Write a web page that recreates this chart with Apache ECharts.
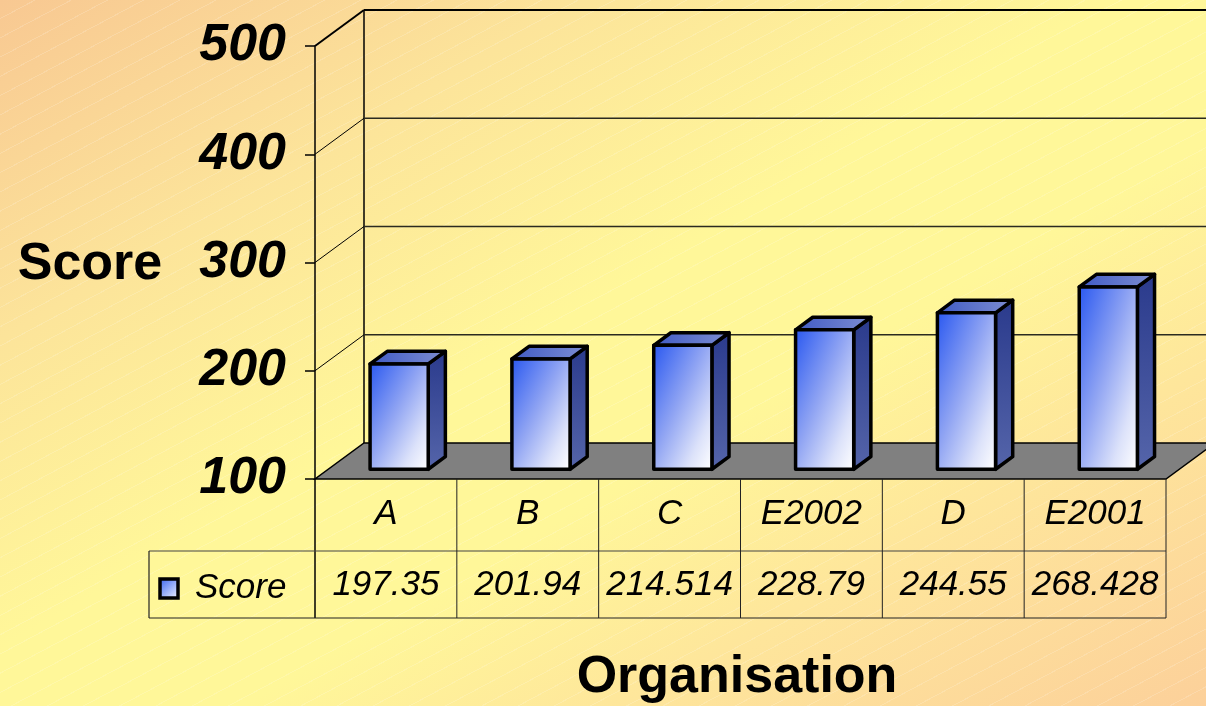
<!DOCTYPE html>
<html>
<head>
<meta charset="utf-8">
<script src="https://cdn.jsdelivr.net/npm/echarts@6/dist/echarts.min.js"></script>
<style>
html,body{margin:0;padding:0;}
body{width:1206px;height:706px;overflow:hidden;
background:
 repeating-linear-gradient(152deg, rgba(255,255,255,0) 0px, rgba(255,255,255,0) 16px, rgba(255,255,255,0.16) 16px, rgba(255,255,255,0.16) 17px),
 linear-gradient(to bottom right, #F8C892 0%, #FCE49A 24%, #FFF799 46%, #FFF799 60%, #FEE69B 76%, #FCD09A 100%);}
#chart{width:1206px;height:706px;}
</style>
</head>
<body>
<div id="chart"></div>
<script>
// ---- data ----
const categories = ['A', 'B', 'C', 'E2002', 'D', 'E2001'];
const scores = [197.35, 201.94, 214.514, 228.79, 244.55, 268.428];
const scoreLabels = ['197.35', '201.94', '214.514', '228.79', '244.55', '268.428'];
const yTicks = [100, 200, 300, 400, 500];
const seriesName = 'Score';
const yTitle = 'Score';
const xTitle = 'Organisation';

// ---- layout / style ----
const FONT = '"Liberation Sans", Arial, sans-serif';
const DX = 49, DY = -36;          // depth offset of back wall
const F0 = 0.27, F1 = 0.62;       // bar depth fractions
const BARW = 0.41;                // bar width as fraction of band

const frontStops = [
  {offset:0, color:'#2B59F0'}, {offset:0.45, color:'#91A5F3'}, {offset:0.78, color:'#DCE2FA'}, {offset:1, color:'#FFFFFF'}];
const keyGrad = {type:'linear', x:0, y:0, x2:1, y2:1, colorStops:[
  {offset:0, color:'#2C5AF0'}, {offset:1, color:'#FFFFFF'}]};
const sideGrad = {type:'linear', x:0, y:0, x2:0, y2:1, colorStops:[
  {offset:0, color:'#2A3A8C'}, {offset:1, color:'#5565AA'}]};
const topGrad = {type:'linear', x:0, y:0, x2:1, y2:0, colorStops:[
  {offset:0, color:'#3F5AC4'}, {offset:1, color:'#7E8ED2'}]};

const chart = echarts.init(document.getElementById('chart'), null, {renderer:'canvas'});

function wallsRender(params, api) {
  const cs = params.coordSys;
  const L = cs.x, R = cs.x + cs.width;
  const t = api.value(0);
  const y = api.coord([0, t])[1];
  const children = [];
  const yMin = yTicks[0], yMax = yTicks[yTicks.length - 1];
  if (t === yMin) {
    children.push({type:'polygon', shape:{points:[[L,y],[R,y],[R+DX,y+DY],[L+DX,y+DY]]},
      style:{fill:'#808080', stroke:'#000', lineWidth:1.5}});
    const yTop = api.coord([0, yMax])[1];
    children.push({type:'line', shape:{x1:L+DX, y1:yTop+DY, x2:L+DX, y2:y+DY},
      style:{stroke:'#000', lineWidth:1.5}});
  } else {
    const top = t === yMax;
    children.push({type:'line', shape:{x1:L, y1:y, x2:L+DX, y2:y+DY},
      style:{stroke:'#000', lineWidth: top ? 2 : 1}});
    children.push({type:'line', shape:{x1:L+DX, y1:y+DY, x2:R+DX+60, y2:y+DY},
      style:{stroke: top ? '#000' : '#2a2a20', lineWidth: top ? 2 : 1.3}});
  }
  return {type:'group', children};
}

function barRender(params, api) {
  const i = api.value(0), v = api.value(1);
  const base = api.coord([i, yTicks[0]]);
  const top = api.coord([i, v]);
  const band = api.size([1, 0])[0];
  const w = band * BARW;
  const x0 = base[0] - w / 2 + DX * F0, x1 = x0 + w;
  const yb = base[1] + DY * F0, yt = top[1] + DY * F0;
  const h = yb - yt;
  const ddx = DX * (F1 - F0), ddy = DY * (F1 - F0);
  // gradient whose isolines run along the anti-diagonal of the front face
  const tt = 2 * w * h / (h * h + w * w);
  const frontGrad = {type:'linear', global:true, x:x0, y:yt, x2:x0 + h * tt, y2:yt + w * tt,
    colorStops: frontStops};
  const st = {stroke:'#000', lineWidth:3.5, lineJoin:'round'};
  return {type:'group', children:[
    {type:'polygon', shape:{points:[[x1,yt],[x1+ddx,yt+ddy],[x1+ddx,yb+ddy],[x1,yb]]},
      style:Object.assign({fill:sideGrad}, st)},
    {type:'polygon', shape:{points:[[x0,yt],[x0+ddx,yt+ddy],[x1+ddx,yt+ddy],[x1,yt]]},
      style:Object.assign({fill:topGrad}, st)},
    {type:'rect', shape:{x:x0, y:yt, width:w, height:h},
      style:Object.assign({fill:frontGrad}, st)}
  ]};
}

function tableRender(params, api) {
  const i = api.value(0);
  const base = api.coord([i, yTicks[0]]);
  const band = api.size([1, 0])[0];
  const xr = base[0] + band / 2;
  const y0 = base[1];
  return {type:'group', children:[
    {type:'line', shape:{x1:xr, y1:y0, x2:xr, y2:y0+139}, style:{stroke:'#222', lineWidth:1}},
    {type:'text', x:base[0], y:y0 + 35, style:{text:categories[i], fill:'#000',
      font:'italic 35px ' + FONT, align:'center', verticalAlign:'middle'}},
    {type:'text', x:base[0], y:y0 + 106, style:{text:scoreLabels[i], fill:'#000',
      font:'italic 35px ' + FONT, align:'center', verticalAlign:'middle'}}
  ]};
}

const option = {
  backgroundColor: 'transparent',
  animation: false,
  grid: {left: 315, top: 46, width: 851, height: 433, containLabel: false},
  xAxis: {type:'category', data: categories, show: false},
  yAxis: {
    type:'value', min: yTicks[0], max: yTicks[yTicks.length-1], interval: 100,
    axisLine:{show:true, lineStyle:{color:'#000', width:1.5}},
    axisTick:{show:true, length:10, lineStyle:{color:'#000', width:1.5}},
    splitLine:{show:false},
    axisLabel:{margin:29, fontSize:52, fontWeight:'bold', fontStyle:'italic',
      fontFamily:FONT, color:'#000'}
  },
  series: [
    {type:'custom', name:'walls', data: yTicks.map(t => [t]), renderItem: wallsRender,
      encode:{y:0}, silent:true, z:1},
    {type:'custom', name: seriesName, data: scores.map((v,i) => [i, v]), renderItem: barRender,
      encode:{x:0, y:1}, z:3},
    {type:'custom', name:'table', data: scores.map((v,i) => [i, v]), renderItem: tableRender,
      encode:{x:0, y:1}, silent:true, z:2}
  ],
  graphic: [
    {type:'line', shape:{x1:315, y1:479, x2:315, y2:618}, style:{stroke:'#000', lineWidth:1.5}},
    {type:'line', shape:{x1:149, y1:551, x2:1166, y2:551}, style:{stroke:'#444', lineWidth:1.2}},
    {type:'line', shape:{x1:149, y1:618, x2:1166, y2:618}, style:{stroke:'#222', lineWidth:1.2}},
    {type:'line', shape:{x1:149, y1:551, x2:149, y2:618}, style:{stroke:'#222', lineWidth:1.2}},
    {type:'rect', shape:{x:160, y:579, width:18, height:19},
      style:{fill:keyGrad, stroke:'#000', lineWidth:3.5}},
    {type:'text', x:195, y:588, style:{text:seriesName, fill:'#000', font:'italic 35px ' + FONT,
      align:'left', verticalAlign:'middle'}},
    {type:'text', x:90, y:265, style:{text:yTitle, fill:'#000', font:'bold 52px ' + FONT,
      align:'center', verticalAlign:'middle'}},
    {type:'text', x:737, y:678, style:{text:xTitle, fill:'#000', font:'bold 52px ' + FONT,
      align:'center', verticalAlign:'middle'}}
  ]
};
chart.setOption(option);
</script>
</body>
</html>
